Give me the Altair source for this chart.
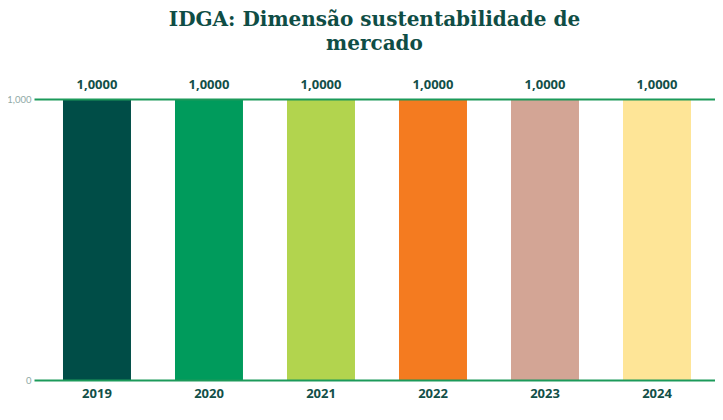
import altair as alt
import pandas as pd

# IDGA market sustainability dimension, one score per year
years = ["2019", "2020", "2021", "2022", "2023", "2024"]
values = [1.0, 1.0, 1.0, 1.0, 1.0, 1.0]
colors = ["#004d47", "#009b5c", "#b2d44e", "#f47b20", "#d3a595", "#fee597"]

df = pd.DataFrame({"ano": years, "valor": values})

base = alt.Chart(df).encode(
    x=alt.X("ano:N",
            scale=alt.Scale(paddingInner=0.393, paddingOuter=0.2366, align=0.547),
            axis=alt.Axis(title=None, labelAngle=0, ticks=False, domain=False,
                          labelFont="Open Sans", labelFontWeight="bold",
                          labelFontSize=13, labelColor="#124f48", labelPadding=7)),
    y=alt.Y("valor:Q",
            scale=alt.Scale(domain=[0, 1]),
            axis=alt.Axis(title=None, values=[0, 1], ticks=False, domain=False,
                          grid=True, gridColor="#1c9a5a", gridWidth=2, zindex=1,
                          labelFont="Lato", labelFontSize=9.5,
                          labelColor="#8faaa6", labelPadding=3,
                          labelExpr="datum.value == 0 ? '0' : replace(format(datum.value, '.3f'), '.', ',')")),
)

bars = base.mark_bar().encode(
    color=alt.Color("ano:N", scale=alt.Scale(domain=years, range=colors), legend=None)
)

text = base.transform_calculate(
    rotulo="replace(format(datum.valor, '.4f'), '.', ',')"
).mark_text(baseline="bottom", dy=-7, font="Open Sans", fontWeight="bold",
            fontSize=13, color="#124f48").encode(text="rotulo:N")

chart = (bars + text).properties(
    width=681,
    height=281,
    title=alt.TitleParams(["IDGA: Dimensão sustentabilidade de", "mercado"],
                          font="DejaVu Serif", fontSize=20, fontWeight="bold",
                          color="#0f4d45", anchor="middle", lineHeight=24, offset=25),
    autosize=alt.AutoSizeParams(type="none"),
    padding={"left": 26, "top": 91, "right": 0, "bottom": 26},
).configure_view(stroke=None)

chart.save("out.html", embed_options={"renderer": "svg", "actions": False})
